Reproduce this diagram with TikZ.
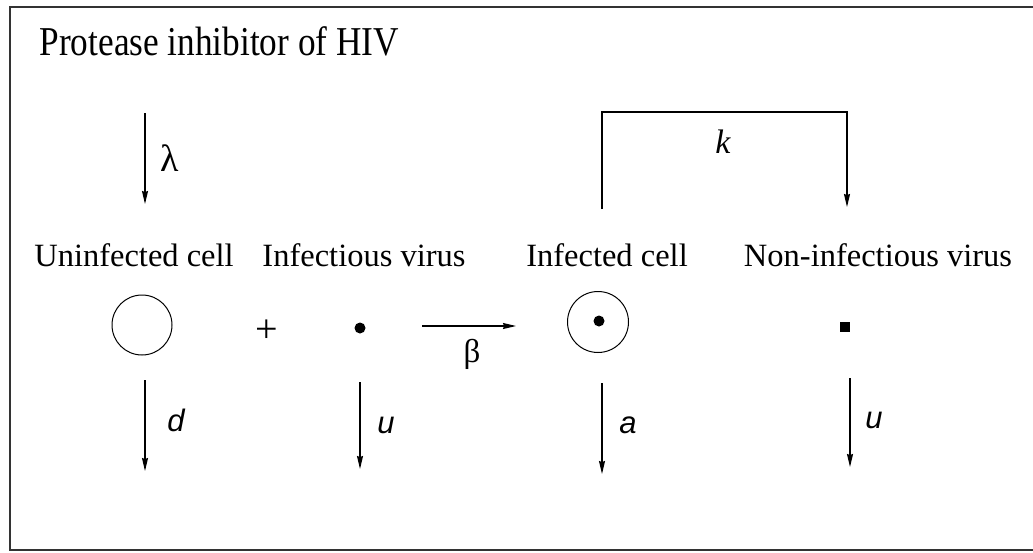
\documentclass[tikz,border=0pt]{standalone}
\usepackage{fontspec}
\setmainfont{Liberation Serif}
\newfontfamily\lsans{Liberation Sans}
\usetikzlibrary{arrows.meta}
\begin{document}
\begin{tikzpicture}[x=1pt,y=-1pt,
  line width=1.2pt,
  arr/.style={-{Stealth[length=13pt,width=6pt,inset=1pt]}},
  lbl/.style={font=\fontsize{32.5}{34}\selectfont, anchor=base, inner sep=0pt},
  rate/.style={font=\fontsize{33}{35}\selectfont, inner sep=0pt},
  srate/.style={font=\fontsize{31}{33}\selectfont\lsans\itshape, inner sep=0pt}]
\useasboundingbox (0,0) rectangle (1033,552);
\begin{scope}
\clip (0,0) rectangle (1033,552);
\draw[line width=1.5pt, draw=black!80] (10,7) rectangle (1045,550);
\end{scope}
% title
\node[font=\fontsize{41}{44}\selectfont, anchor=base west, inner sep=0pt] (title) at (39,55) {\scalebox{0.86}[1]{Protease inhibitor of HIV}};
% labels
\node[lbl] (luc) at (134,266) {Uninfected cell};
\node[lbl] (liv) at (364,266) {Infectious virus};
\node[lbl] (lic) at (607,266) {Infected cell};
\node[lbl] (lnv) at (878,266) {Non-infectious virus};
% species
\node[circle, draw, line width=1pt, minimum size=60pt, inner sep=0pt] (uc) at (142,325) {};
\node[font=\fontsize{40}{42}\selectfont, inner sep=0pt] (plus) at (267,331) {+};
\node[circle, fill, minimum size=11pt, inner sep=0pt] (iv) at (360,328) {};
\node[circle, draw, line width=1pt, minimum size=61pt, inner sep=0pt] (ic) at (598,322) {};
\node[circle, fill, minimum size=11pt, inner sep=0pt] (icd) at (599,321) {};
\node[rectangle, fill, minimum size=10pt, inner sep=0pt] (nv) at (845,327) {};
% lambda
\coordinate (lamA) at (145,113);
\coordinate (lamB) at (145,204);
\draw[arr] (lamA) -- (lamB);
\node[font=\fontsize{38}{40}\selectfont, inner sep=0pt] (lam) at (170,158) {λ};
% beta
\coordinate (bA) at (422,326);
\coordinate (bB) at (516,326);
\draw[arr] (bA) -- (bB);
\node[rate] (beta) at (472,354) {β};
% k bracket
\coordinate (kA) at (602,209);
\coordinate (kB) at (847,207);
\draw[arr] (kA) -- (602,112) -- (847,112) -- (kB);
\node[font=\fontsize{34}{36}\selectfont\itshape, inner sep=0pt] (k) at (723,142) {k};
% decay arrows
\coordinate (dA) at (145,380); \coordinate (dB) at (145,471);
\draw[arr] (dA) -- (dB);
\node[srate] (d) at (176,420) {d};
\coordinate (uA) at (360,382); \coordinate (uB) at (360,469);
\draw[arr] (uA) -- (uB);
\node[srate] (u) at (386,425) {u};
\coordinate (aA) at (602,383); \coordinate (aB) at (602,474);
\draw[arr] (aA) -- (aB);
\node[srate] (a) at (628,425) {a};
\coordinate (u2A) at (850,378); \coordinate (u2B) at (850,467);
\draw[arr] (u2A) -- (u2B);
\node[srate] (u2) at (874,420) {u};
\end{tikzpicture}
\end{document}
